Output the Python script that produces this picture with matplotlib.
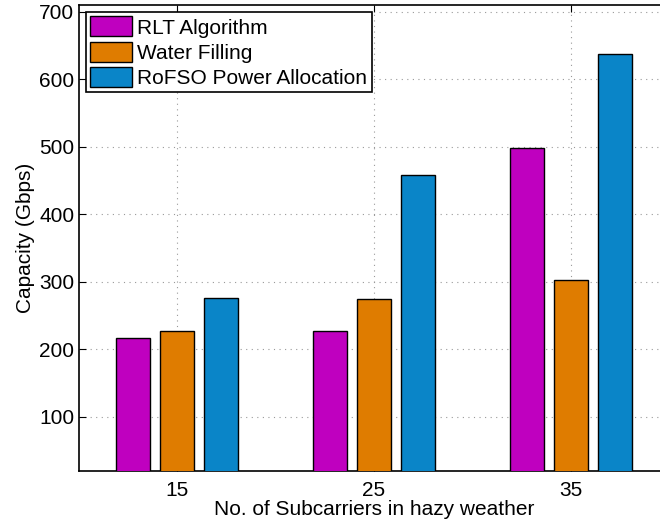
import matplotlib.pyplot as plt
import numpy as np

plt.rcParams['font.family'] = ['Liberation Sans', 'DejaVu Sans']

subcarriers = [15, 25, 35]
rlt = [217, 228, 498]
water_filling = [227, 274, 303]
rofso = [276, 458, 638]

series = [
    ('RLT Algorithm', rlt, '#bf00bf'),
    ('Water Filling', water_filling, '#df7c00'),
    ('RoFSO Power Allocation', rofso, '#0a85c8'),
]

fig = plt.figure(figsize=(6.6, 5.25), dpi=100)
ax = fig.add_axes([79 / 660, 54 / 525, 590 / 660, 466 / 525])

x = np.array(subcarriers, dtype=float)
width = 1.73
step = 2.24
for i, (name, vals, color) in enumerate(series):
    ax.bar(x + (i - 1) * step, vals, width, color=color, edgecolor='black',
           linewidth=1.0, label=name, zorder=3)

ax.set_xlim(10, 40)
ax.set_ylim(20, 710)
ax.set_xticks(subcarriers)
ax.set_yticks([100, 200, 300, 400, 500, 600, 700])
ax.tick_params(axis='x', pad=7)
ax.tick_params(direction='in', length=5, labelsize=15, top=True, right=True)
ax.grid(True, linestyle=(0, (1, 4)), color='#999999', linewidth=0.8, zorder=0)
for s in ax.spines.values():
    s.set_linewidth(1.2)

ax.set_xlabel('No. of Subcarriers in hazy weather', fontsize=15, labelpad=0)
ax.set_ylabel('Capacity (Gbps)', fontsize=15, labelpad=3)

leg = ax.legend(loc='upper left', fontsize=15, fancybox=False, framealpha=1,
                edgecolor='black', borderpad=0.2, labelspacing=0.2,
                handlelength=2.0, handleheight=1.1, handletextpad=0.25,
                borderaxespad=0.35)
leg.get_frame().set_linewidth(1.2)

fig.savefig('out.png', dpi=100)
